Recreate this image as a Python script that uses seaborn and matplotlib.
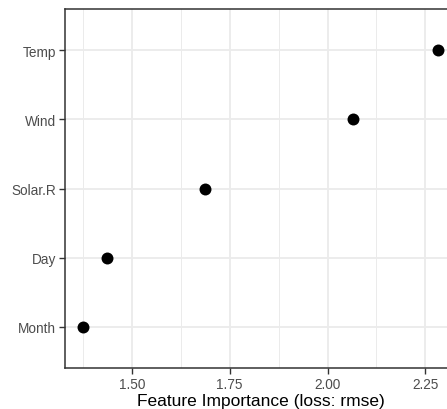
import matplotlib
matplotlib.use("Agg")
import matplotlib.pyplot as plt
from matplotlib.ticker import FixedLocator
import seaborn as sns
import pandas as pd

features = ["Temp", "Wind", "Solar.R", "Day", "Month"]
importance = [2.281, 2.066, 1.687, 1.436, 1.376]
x_ticks = [1.50, 1.75, 2.00, 2.25]
x_tick_labels = ["1.50", "1.75", "2.00", "2.25"]
x_minor = [1.375, 1.625, 1.875, 2.125]

df = pd.DataFrame({"feature": features, "importance": importance})

sns.set_theme(style="white")
plt.rcParams["font.family"] = ["Liberation Sans", "DejaVu Sans"]

fig = plt.figure(figsize=(4.47, 4.10), dpi=100)
ax = fig.add_axes([0.1465, 0.1, 0.872, 0.8756])

# light grid behind the points, theme_bw style
ax.set_axisbelow(True)
grid_col = "#EBEBEB"
for v in x_ticks:
    ax.axvline(v, color=grid_col, lw=1.3, zorder=0)
for v in x_minor:
    ax.axvline(v, color=grid_col, lw=0.7, zorder=0)
for i in range(len(features)):
    ax.axhline(i, color=grid_col, lw=1.3, zorder=0)

sns.stripplot(data=df, x="importance", y="feature", order=features,
              jitter=False, color="black", size=8.6, linewidth=0, ax=ax, zorder=3)

span = max(importance) - min(importance)
ax.set_xlim(min(importance) - 0.05 * span, max(importance) + 0.05 * span)
ax.set_ylim(len(features) - 0.4, -0.6)

ax.xaxis.set_major_locator(FixedLocator(x_ticks))
ax.set_xticklabels(x_tick_labels)

ax.set_xlabel("Feature Importance (loss: rmse)", fontsize=12.5, color="black", labelpad=1)
ax.set_ylabel("")

ax.tick_params(axis="both", which="major", length=4.3, width=1.0, color="#333333",
               labelcolor="#4D4D4D", labelsize=9.8, pad=2.5, direction="out")
ax.tick_params(axis="x", bottom=True)
ax.tick_params(axis="y", left=True)

for s in ax.spines.values():
    s.set_color("#333333")
    s.set_linewidth(1.1)
    s.set_visible(True)

fig.savefig("out.png", dpi=100, facecolor="white")
